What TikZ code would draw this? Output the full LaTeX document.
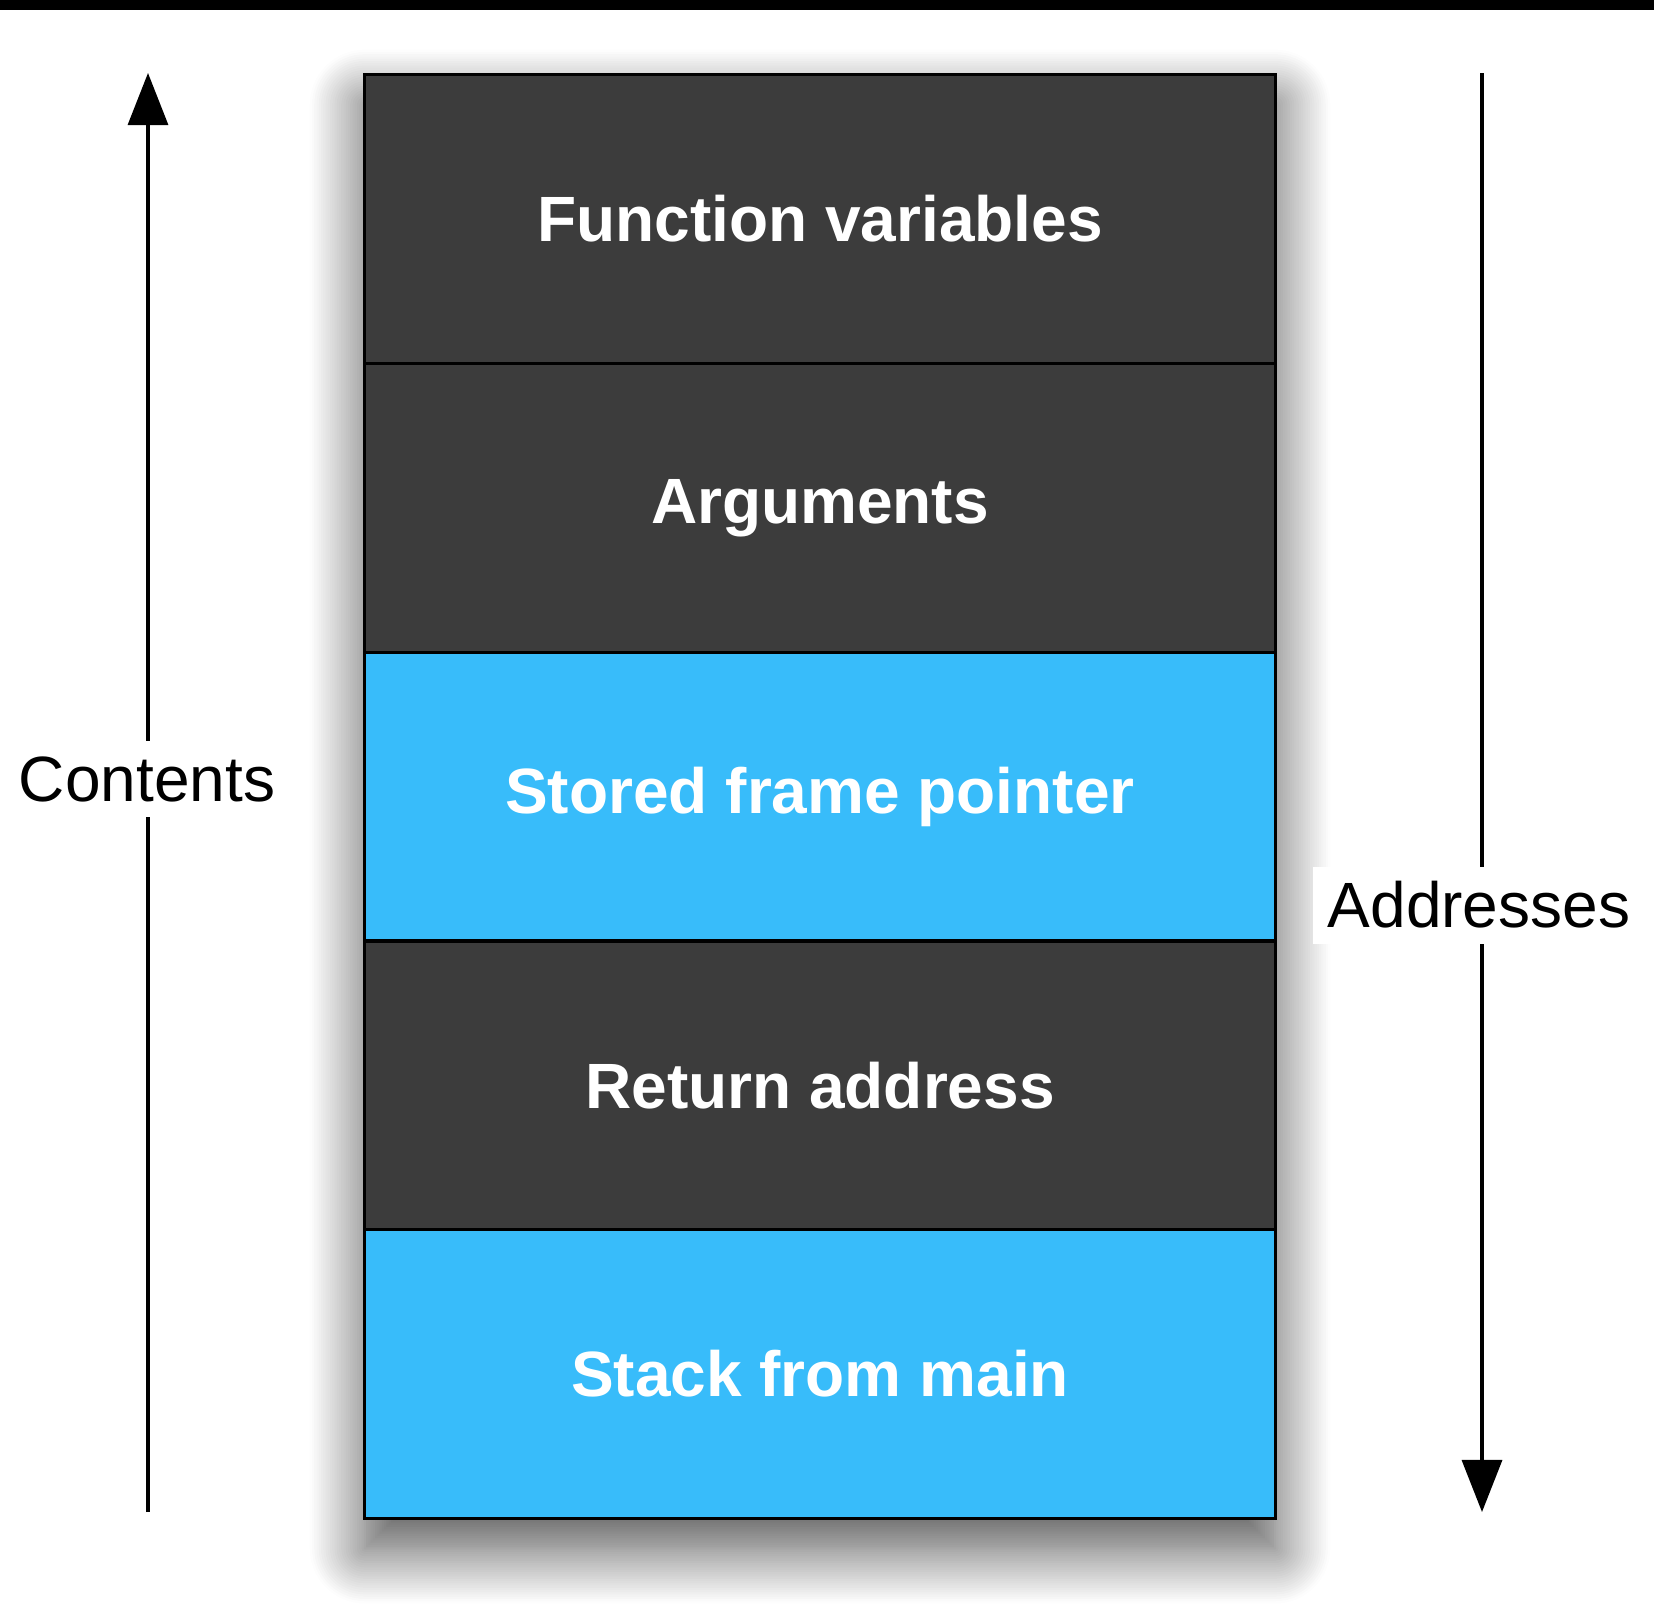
\documentclass[tikz,border=0pt]{standalone}
\usepackage{fontspec}
\setmainfont{Liberation Sans}
\usepackage{tikz}
\usetikzlibrary{arrows.meta,positioning,shadows.blur,backgrounds}
\definecolor{stackgray}{HTML}{3C3C3C}
\definecolor{stackblue}{HTML}{38BCFA}

\begin{document}
\begin{tikzpicture}[
  x=0.01cm, y=-0.01cm,
  node distance=0pt,
  frame/.style={draw=black, line width=0.9pt, minimum width=9.1cm, minimum height=2.886cm, inner sep=0pt, outer sep=0pt, text=white, font=\bfseries\fontsize{18.2}{22}\selectfont},
  darkframe/.style={frame, fill=stackgray},
  blueframe/.style={frame, fill=stackblue},
  side/.style={fill=white, inner sep=0.15cm, font=\fontsize{18.2}{22}\selectfont},
  arr/.style={-{Triangle[length=5.2mm, width=4mm, fill=black]}, draw=black, line width=0.9pt}
]
\useasboundingbox (0,0) rectangle (1654,1605);
\fill[black] (0,0) rectangle (1654,10);

\node[darkframe] (fvars) at (820,219) {Function variables};
\node[darkframe, below=of fvars] (args) {Arguments};
\node[blueframe, below=of args] (sfp) {Stored frame pointer};
\node[darkframe, below=of sfp] (retaddr) {Return address};
\node[blueframe, below=of retaddr] (mainstack) {Stack from main};

\begin{pgfonlayer}{background}
  \fill[white, blur shadow={shadow xshift=0pt, shadow yshift=-0.3cm, shadow blur radius=0.55cm, shadow blur steps=25, shadow opacity=70}]
    (fvars.north west) rectangle (mainstack.south east);
\end{pgfonlayer}

\coordinate (cbot) at (148,1512);
\coordinate (ctop) at (148,73);
\coordinate (atop) at (1482,73);
\coordinate (abot) at (1482,1512);
\draw[arr] (cbot) -- (ctop);
\draw[arr] (atop) -- (abot);
\node[side] (contents) at (147,779) {Contents};
\node[side] (addresses) at (1479,905) {Addresses};
\end{tikzpicture}
\end{document}
